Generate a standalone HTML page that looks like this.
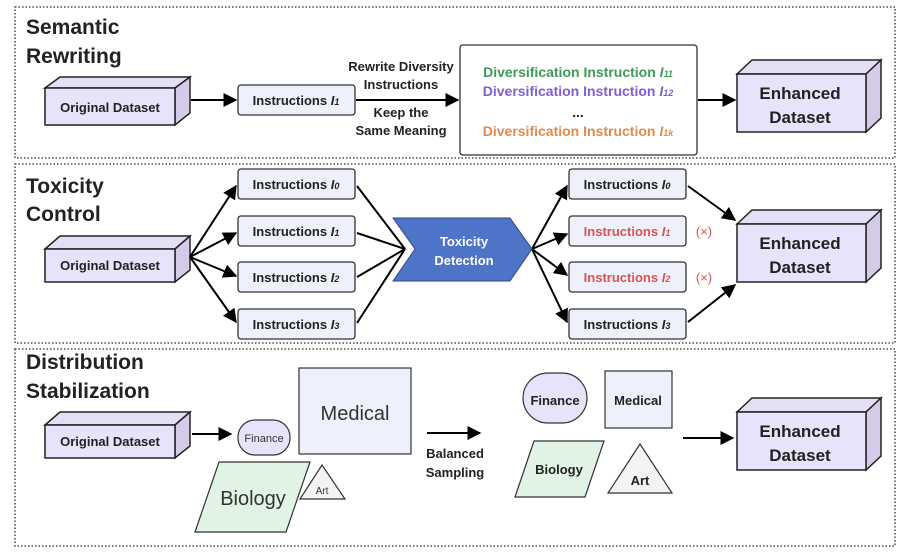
<!DOCTYPE html>
<html><head><meta charset="utf-8"><style>
body{margin:0;background:#fff}
svg{display:block;font-family:"Liberation Sans","DejaVu Sans",sans-serif}
.t{font-weight:bold;font-size:13px;fill:#222;text-anchor:middle}
.h{font-weight:bold;font-size:21px;fill:#222}
.b{fill:#eef1fb;stroke:#333;stroke-width:1.3}
.l{stroke:#000;stroke-width:2;fill:none}
</style></head><body>
<svg width="911" height="555" viewBox="0 0 911 555">
<defs><marker id="a" viewBox="0 0 10 10" refX="9" refY="5" markerWidth="7" markerHeight="7" orient="auto"><path d="M0,0L10,5L0,10z" fill="#000"/></marker></defs>
<g fill="none" stroke="#666" stroke-width="1.8" stroke-dasharray="1.5 2">
<rect x="15" y="7" width="880" height="151"/>
<rect x="15" y="164" width="880" height="179"/>
<rect x="15" y="349" width="880" height="197"/>
</g>
<text class="h" x="26" y="34">Semantic</text><text class="h" x="26" y="63">Rewriting</text>
<text class="h" x="26" y="193">Toxicity</text><text class="h" x="26" y="221">Control</text>
<text class="h" x="26" y="369">Distribution</text><text class="h" x="26" y="398">Stabilization</text>
<g stroke="#222" stroke-width="1.5">
<path d="M45,88L60,77L190,77L175,88Z" fill="#e5dff5"/><path d="M175,88L190,77L190,113L175,125Z" fill="#d3cbe8"/><rect x="45" y="88" width="130" height="37" fill="#e8e2fb"/></g>
<text class="t" x="110" y="112">Original Dataset</text>
<g stroke="#222" stroke-width="1.5">
<path d="M45,249L60,236L190,236L175,249Z" fill="#e5dff5"/><path d="M175,249L190,236L190,270L175,282Z" fill="#d3cbe8"/><rect x="45" y="249" width="130" height="33" fill="#e8e2fb"/>
<path d="M45,425L60,412L190,412L175,425Z" fill="#e5dff5"/><path d="M175,425L190,412L190,446L175,458Z" fill="#d3cbe8"/><rect x="45" y="425" width="130" height="33" fill="#e8e2fb"/>
</g>
<text class="t" x="110" y="270">Original Dataset</text>
<text class="t" x="110" y="446">Original Dataset</text>
<g stroke="#222" stroke-width="1.5">
<path d="M737,74L752,60L881,60L866,74Z" fill="#e5dff5"/><path d="M866,74L881,60L881,118L866,132Z" fill="#d3cbe8"/><rect x="737" y="74" width="129" height="58" fill="#e8e2fb"/>
<path d="M737,224L752,210L881,210L866,224Z" fill="#e5dff5"/><path d="M866,224L881,210L881,268L866,282Z" fill="#d3cbe8"/><rect x="737" y="224" width="129" height="58" fill="#e8e2fb"/>
<path d="M737,412L752,398L881,398L866,412Z" fill="#e5dff5"/><path d="M866,412L881,398L881,456L866,470Z" fill="#d3cbe8"/><rect x="737" y="412" width="129" height="58" fill="#e8e2fb"/>
</g>
<g class="t" style="font-size:17px"><text x="800" y="99">Enhanced</text><text x="800" y="123">Dataset</text>
<text x="800" y="249">Enhanced</text><text x="800" y="273">Dataset</text>
<text x="800" y="437">Enhanced</text><text x="800" y="461">Dataset</text></g>
<line class="l" x1="191" y1="100" x2="236" y2="100" marker-end="url(#a)"/>
<rect class="b" x="238" y="85" width="117" height="30" rx="3"/>
<text class="t" x="296" y="105">Instructions <tspan font-style="italic">I<tspan font-size="9">1</tspan></tspan></text>
<line class="l" x1="356" y1="100" x2="458" y2="100" marker-end="url(#a)"/>
<text class="t" x="401" y="71">Rewrite Diversity</text><text class="t" x="401" y="89">Instructions</text>
<text class="t" x="401" y="117">Keep the</text><text class="t" x="401" y="135">Same Meaning</text>
<rect x="460" y="45" width="237" height="110" rx="3" fill="#fff" stroke="#333" stroke-width="1.3"/>
<g class="t" style="font-size:14px"><text x="578" y="77" fill="#3f9a58">Diversification Instruction <tspan font-style="italic">I<tspan font-size="9">11</tspan></tspan></text>
<text x="578" y="96" fill="#7d5fd3">Diversification Instruction <tspan font-style="italic">I<tspan font-size="9">12</tspan></tspan></text>
<text x="578" y="117">...</text>
<text x="578" y="136" fill="#df8a4e">Diversification Instruction <tspan font-style="italic">I<tspan font-size="9">1k</tspan></tspan></text></g>
<line class="l" x1="698" y1="100" x2="735" y2="100" marker-end="url(#a)"/>
<g class="l">
<line x1="190" y1="257" x2="236" y2="186" marker-end="url(#a)"/><line x1="190" y1="257" x2="236" y2="233" marker-end="url(#a)"/>
<line x1="190" y1="257" x2="236" y2="276" marker-end="url(#a)"/><line x1="190" y1="257" x2="236" y2="322" marker-end="url(#a)"/>
<line x1="357" y1="186" x2="405" y2="249"/><line x1="357" y1="233" x2="405" y2="249"/><line x1="357" y1="277" x2="405" y2="249"/><line x1="357" y1="323" x2="405" y2="249"/>
<line x1="532" y1="249" x2="567" y2="186" marker-end="url(#a)"/><line x1="532" y1="249" x2="567" y2="234" marker-end="url(#a)"/>
<line x1="532" y1="249" x2="567" y2="275" marker-end="url(#a)"/><line x1="532" y1="249" x2="567" y2="322" marker-end="url(#a)"/>
<line x1="688" y1="186" x2="735" y2="220" marker-end="url(#a)"/><line x1="688" y1="322" x2="735" y2="285" marker-end="url(#a)"/>
</g>
<path d="M393,218L510,218L532,249L510,281L393,281L415,249Z" fill="#4d74c6" stroke="#2d4a88" stroke-width="1"/>
<text class="t" x="464" y="246" style="fill:#fff">Toxicity</text><text class="t" x="464" y="265" style="fill:#fff">Detection</text>
<g>
<rect class="b" x="238" y="169" width="117" height="30" rx="3"/><rect class="b" x="238" y="216" width="117" height="30" rx="3"/>
<rect class="b" x="238" y="262" width="117" height="30" rx="3"/><rect class="b" x="238" y="309" width="117" height="30" rx="3"/>
<rect class="b" x="569" y="169" width="117" height="30" rx="3"/><rect class="b" x="569" y="216" width="117" height="30" rx="3"/>
<rect class="b" x="569" y="262" width="117" height="30" rx="3"/><rect class="b" x="569" y="309" width="117" height="30" rx="3"/>
</g>
<g class="t">
<text x="296" y="189">Instructions <tspan font-style="italic">I<tspan font-size="9">0</tspan></tspan></text>
<text x="296" y="236">Instructions <tspan font-style="italic">I<tspan font-size="9">1</tspan></tspan></text>
<text x="296" y="282">Instructions <tspan font-style="italic">I<tspan font-size="9">2</tspan></tspan></text>
<text x="296" y="329">Instructions <tspan font-style="italic">I<tspan font-size="9">3</tspan></tspan></text>
<text x="627" y="189">Instructions <tspan font-style="italic">I<tspan font-size="9">0</tspan></tspan></text>
<text x="627" y="236" style="fill:#d9534f">Instructions <tspan font-style="italic">I<tspan font-size="9">1</tspan></tspan></text>
<text x="627" y="282" style="fill:#d9534f">Instructions <tspan font-style="italic">I<tspan font-size="9">2</tspan></tspan></text>
<text x="627" y="329">Instructions <tspan font-style="italic">I<tspan font-size="9">3</tspan></tspan></text>
<text x="704" y="236" style="fill:#d9534f;font-weight:normal">(×)</text>
<text x="704" y="282" style="fill:#d9534f;font-weight:normal">(×)</text>
</g>
<line class="l" x1="192" y1="434" x2="231" y2="434" marker-end="url(#a)"/>
<rect x="238" y="420" width="52" height="35" rx="17" fill="#e8e2fb" stroke="#333" stroke-width="1.2"/>
<text x="264" y="442" text-anchor="middle" font-size="11" fill="#333">Finance</text>
<rect x="299" y="368" width="112" height="86" fill="#eef1fb" stroke="#333" stroke-width="1.2"/>
<text x="355" y="420" text-anchor="middle" font-size="20" fill="#333">Medical</text>
<path d="M195,532L219,462L310,462L286,532Z" fill="#e0f3e4" stroke="#333" stroke-width="1.2"/>
<text x="253" y="505" text-anchor="middle" font-size="20" fill="#333">Biology</text>
<path d="M322,465L345,499L300,499Z" fill="#f3f3f3" stroke="#333" stroke-width="1.2"/>
<text x="322" y="494" text-anchor="middle" font-size="10" fill="#333">Art</text>
<line class="l" x1="427" y1="433" x2="480" y2="433" marker-end="url(#a)"/>
<text class="t" x="455" y="458">Balanced</text><text class="t" x="455" y="477">Sampling</text>
<rect x="523" y="373" width="64" height="50" rx="25" fill="#e8e2fb" stroke="#333" stroke-width="1.2"/>
<text class="t" x="555" y="405">Finance</text>
<rect x="605" y="371" width="67" height="57" fill="#eef1fb" stroke="#333" stroke-width="1.2"/>
<text class="t" x="638" y="405">Medical</text>
<path d="M515,497L534,441L604,441L585,497Z" fill="#e0f3e4" stroke="#333" stroke-width="1.2"/>
<text class="t" x="559" y="474">Biology</text>
<path d="M640,444L672,493L608,493Z" fill="#f3f3f3" stroke="#333" stroke-width="1.2"/>
<text class="t" x="640" y="485">Art</text>
<line class="l" x1="683" y1="438" x2="733" y2="438" marker-end="url(#a)"/>
</svg>
</body></html>
